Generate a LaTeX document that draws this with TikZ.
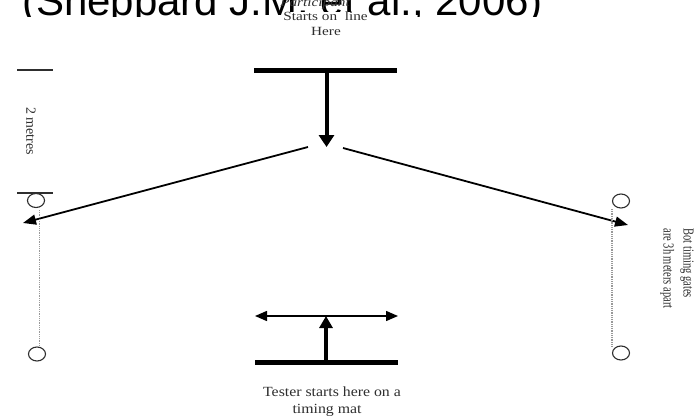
\documentclass[tikz,border=0pt]{standalone}
\usepackage{fontspec}
\usepackage{graphicx}
\setmainfont{Liberation Serif}
\newfontfamily\titlefont{Liberation Sans}
\usetikzlibrary{arrows.meta,shapes.geometric}
\definecolor{ink}{HTML}{2E2E2E}
\definecolor{dotgray}{HTML}{999999}
\begin{document}
\begin{tikzpicture}[x=1pt,y=-1pt,
  bar/.style={line width=5pt,black},
  bigarrow/.style={line width=4pt,black,-{Triangle[length=12pt,width=15pt]}},
  runarrow/.style={line width=1.8pt,black,-{Triangle[length=13pt,width=10pt]}},
  sidearrow/.style={line width=1.5pt,black,{Triangle[length=12pt,width=10pt]}-{Triangle[length=12pt,width=10pt]}},
  gate/.style={ellipse,draw=ink,line width=1.1pt,minimum width=17pt,minimum height=14pt,inner sep=0pt},
  gateline/.style={line width=1.1pt,ink},
  dotline/.style={dotgray,line width=1.2pt,dash pattern=on 1pt off 0.8pt},
  lbl/.style={text=ink,inner sep=0pt}
]
\useasboundingbox (0,0) rectangle (698,417);
\clip (0,0) rectangle (698,417);
\fill[white] (0,0) rectangle (698,417);

% title, clipped top and bottom
\begin{scope}
\clip (0,0) rectangle (698,16.5);
\node[anchor=base west,inner sep=0pt,text=black,font=\titlefont\fontsize{42}{46}\selectfont] (title) at (22,16) {(Sheppard J.M. et al., 2006)};
\end{scope}

\node[lbl,anchor=base,font=\itshape\fontsize{12.5}{15}\selectfont] (part) at (315,7) {\scalebox{1.22}[1]{Participant}};
\node[lbl,anchor=base,fill=white,inner xsep=1pt,inner ysep=0.5pt,font=\fontsize{12.5}{15}\selectfont] (starts) at (325.5,20.7) {\scalebox{1.22}[1]{Starts on\ \ line}};
\node[lbl,anchor=base,font=\fontsize{12.5}{15}\selectfont] (here) at (326,36) {\scalebox{1.22}[1]{Here}};

% top start line and arrow
\coordinate (tbL) at (254,70.5);
\coordinate (tbR) at (397,70.5);
\coordinate (tbM) at (326.5,70.5);
\coordinate (apex) at (326.5,147);
\draw[bar] (tbL) -- (tbR);
\draw[bigarrow] (tbM) -- (apex);

% diverging runs
\coordinate (dl) at (308,147);
\coordinate (dr) at (343,148);
\coordinate (tipL) at (23,223);
\coordinate (tipR) at (628,225);
\draw[runarrow] (dl) -- (tipL);
\draw[runarrow] (dr) -- (tipR);

% left gates
\coordinate (mL1) at (17,70);
\coordinate (mR1) at (53,70);
\draw[gateline] (mL1) -- (mR1);
\coordinate (mL2) at (17,193);
\coordinate (mR2) at (53,193);
\draw[gateline] (mL2) -- (mR2);
\node[lbl,rotate=-90,font=\fontsize{14}{16}\selectfont] (two) at (31,131) {2 metres};
\node[gate] (gLT) at (36,200.5) {};
\node[gate] (gLB) at (37,354) {};
\coordinate (dLT) at (39.5,210);
\coordinate (dLB) at (39.5,346);
\draw[dotline] (dLT) -- (dLB);

% right gates
\node[gate] (gRT) at (621,201) {};
\node[gate] (gRB) at (621,353) {};
\coordinate (dRT) at (612,209);
\coordinate (dRB) at (612,347);
\draw[dotline] (dRT) -- (dRB);
\node[lbl,rotate=-90,align=left,font=\fontsize{10.5}{20}\selectfont] (bot) at (677,268.5) {\scalebox{1}[1.45]{Bot timing gates}\\\scalebox{1}[1.45]{are 3h meters apart}};

% bottom start
\coordinate (sL) at (255,316);
\coordinate (sR) at (398,316);
\draw[sidearrow] (sL) -- (sR);
\coordinate (bbL) at (255,362.3);
\coordinate (bbR) at (398,362.3);
\coordinate (bbM) at (326,362.3);
\coordinate (bTop) at (326,316);
\draw[bar] (bbL) -- (bbR);
\draw[line width=4pt,black,-{Triangle[length=12pt,width=13pt]}] (bbM) -- (bTop);

\node[lbl,anchor=base,font=\fontsize{14}{17}\selectfont] (tester) at (332,396) {\scalebox{1.13}[1]{Tester starts here on a}};
\node[lbl,anchor=base,font=\fontsize{14}{17}\selectfont] (mat) at (327,413) {\scalebox{1.13}[1]{timing mat}};
\end{tikzpicture}
\end{document}
